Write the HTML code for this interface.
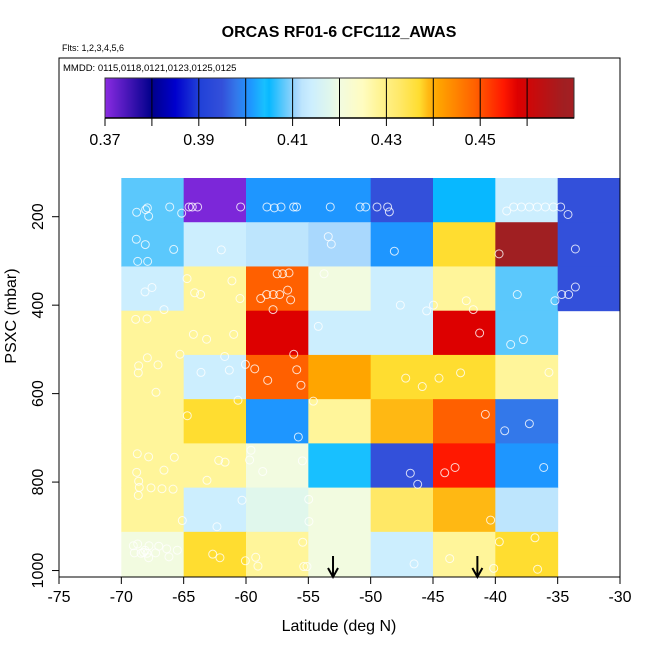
<!DOCTYPE html>
<html><head><meta charset="utf-8"><style>
html,body{margin:0;padding:0;background:#fff;}
svg{display:block;font-family:"Liberation Sans",Arial,sans-serif;}
</style></head><body>
<svg id="chart" width="650" height="650" viewBox="0 0 650 650" xmlns="http://www.w3.org/2000/svg">
<text x="339" y="37" text-anchor="middle" font-size="16" font-weight="bold">ORCAS RF01-6 CFC112_AWAS</text>
<text x="62" y="51" font-size="9">Flts: 1,2,3,4,5,6</text>
<g id="cells"></g>
<g id="points"></g>
<g id="arrows"></g>
<rect x="59" y="58" width="561" height="519" fill="none" stroke="#000" stroke-width="1"/>
<text x="63" y="71" font-size="9.5">MMDD: 0115,0118,0121,0123,0125,0125</text>
<g id="cbar"></g>
<g id="xaxis"></g>
<g id="yaxis"></g>
<text x="339" y="631" text-anchor="middle" font-size="16">Latitude (deg N)</text>
<text transform="translate(16,316) rotate(-90)" text-anchor="middle" font-size="16">PSXC (mbar)</text>
</svg>
<script>
const latEdges = [-70,-65,-60,-55,-50,-45,-40,-35,-30];
const presEdges = [112.5,212.5,312.5,412.5,512.5,612.5,712.5,812.5,912.5,1012.5];
const row0 = [0.408,0.371,0.401,0.401,0.395,0.405,0.414,0.395];
const row1 = [0.408,0.414,0.412,0.411,0.401,0.437,0.468,0.395];
const row2 = [0.414,0.428,0.449,0.420,0.414,0.428,0.408,0.395];
const row3 = [0.428,0.428,0.458,0.414,0.414,0.458,0.408,null];
const row4 = [0.428,0.414,0.449,0.441,0.437,0.437,0.428,null];
const row5 = [0.428,0.437,0.401,0.428,0.439,0.449,0.398,null];
const row6 = [0.428,0.428,0.420,0.404,0.395,0.455,0.401,null];
const row7 = [0.428,0.414,0.418,0.420,0.433,0.439,0.412,null];
const row8 = [0.420,0.437,0.428,0.420,0.414,0.428,0.437,null];
const grid = [row0,row1,row2,row3,row4,row5,row6,row7,row8];
const xTicks = [-75,-70,-65,-60,-55,-50,-45,-40,-35,-30];
const yTicks = [200,400,600,800,1000];
const cbTicks = [0.37,0.39,0.41,0.43,0.45];
const cbMinor = [0.38,0.40,0.42,0.44,0.46];
const arrowLats = [-53.02,-41.44];
const ptLat = [-68.77,-68.05,-67.91,-67.81,-66.12,-65.16,-64.57,-64.31,-63.88,-60.43,-58.32,-57.73,-57.19,-56.18,-55.94,-53.24,-50.85,-50.40,-49.49,-48.64,-48.50,-39.09,-38.53,-37.91,-37.27,-36.63,-35.99,-35.35,-34.76,-34.17,
-68.80,-68.08,-65.8,-68.69,-67.89,-61.98,-53.4,-53.16,-48.1,-39.7,-33.58,
-67.54,-68.1,-64.73,-64.12,-63.64,-61.13,-60.48,-57.5,-57.06,-56.55,-58.34,-57.81,-57.3,-56.66,-56.42,-58.82,-57.83,-53.74,-47.62,-45.51,-44.97,-42.33,-41.77,-38.24,-35.22,-34.68,-34.12,-33.58,-66.58,
-68.85,-67.94,-64.22,-63.16,-60.99,-54.2,-41.26,-37.75,-38.77,
-67.91,-68.61,-68.64,-67.06,-65.3,-67.22,-61.71,-63.61,-61.34,-60.05,-59.3,-58.26,-56.17,-55.93,-55.59,-60.64,-54.6,-47.19,-45.86,-44.52,-42.79,-35.7,
-64.71,-55.8,-40.8,-39.25,-37.27,-68.72,-67.81,-65.75,-68.77,-66.58,-68.61,-68.56,-67.62,-66.74,-65.85,-68.64,-62.19,-61.68,-63.13,-59.6,-59.71,-58.66,-55.48,-46.82,-46.23,-44.06,-43.23,-36.12,-60.32,-65.11,-62.33,-54.97,-54.95,-40.38,
-69.04,-68.69,-68.96,-68.23,-67.78,-67.94,-67.81,-67.25,-67.0,-66.36,-66.18,-65.51,-68.42,-68.1,-62.67,-62.09,-60.05,-59.22,-59.04,-55.45,-55.37,-55.11,-46.52,-43.66,-40.13,-39.68,-36.82,-36.61];
const ptPres = [190,184,180,199,178,192,178,178,178,178,178,180,178,178,178,178,178,178,178,178,189,187,178,178,178,178,178,178,178,195,
251,263,274,301,301,275,245,262,278,284,273,
360,370,340,372,376,345,385,329,329,327,376,376,376,366,388,385,410,329,400,413,400,390,410,376,390,376,376,359,410,
432,431,466,477,466,448,463,478,489,
519,537,553,535,511,597,516,552,547,534,544,570,511,546,581,615,617,565,584,565,553,552,
650,698,647,684,668,736,743,744,778,773,798,812,813,815,816,830,751,755,796,728,750,776,752,780,805,779,767,767,841,887,901,839,889,886,
944,940,960,959,944,961,971,960,945,951,969,954,961,954,963,971,978,970,990,936,991,991,985,973,995,935,926,997];
const stopV = [0.370,0.380,0.385,0.390,0.395,0.398,0.401,0.404,0.405,0.408,0.411,0.412,0.414,0.418,0.420,0.425,0.428,0.433,0.437,0.439,0.441,0.449,0.455,0.458,0.468,0.470];
const stopC = ["#8a2be2","#00008b","#0000cd","#2040d8","#3350da","#3378ea","#1e96ff","#18c0ff","#08b8ff","#5bc8fc","#a9d8fd","#bde5fd","#cceefe","#e0f7ec","#f2fbe0","#fffcc0","#fff59a","#ffe866","#ffdd30","#ffb813","#ffa500","#ff6000","#ff1800","#dd0000","#a01f22","#a51e22"];

const NS="http://www.w3.org/2000/svg";
const X0=59, XS=561/45;
function xs(lat){return X0+(lat+75)*XS;}
function ys(p){return 216.7+(p-200)*0.4423;}
function cx(v){return 105+(v-0.37)*4690;}
function hex(c){return [1,3,5].map(i=>parseInt(c.substr(i,2),16));}
function colorOf(v){
  if(v<=stopV[0]) return stopC[0];
  for(let i=1;i<stopV.length;i++){ if(v<=stopV[i]){ const t=(v-stopV[i-1])/(stopV[i]-stopV[i-1]); const a=hex(stopC[i-1]),b=hex(stopC[i]); return "rgb("+a.map((q,k)=>Math.round(q+(b[k]-q)*t)).join(",")+")"; } }
  return stopC[stopC.length-1];
}
function mk(tag,attrs,parent){const e=document.createElementNS(NS,tag);for(const k in attrs)e.setAttribute(k,attrs[k]);parent.appendChild(e);return e;}

const cells=document.getElementById('cells');
grid.forEach((row,r)=>row.forEach((v,c)=>{
  if(v===null) return;
  const x1=xs(latEdges[c]),x2=xs(latEdges[c+1]),y1=ys(presEdges[r]),y2=ys(presEdges[r+1]);
  const e=mk('rect',{x:x1,y:y1,width:x2-x1+0.5,height:y2-y1+0.5,fill:colorOf(v)},cells);
  
  
}));

const pts=document.getElementById('points');
ptLat.forEach((la,i)=>{
  const e=mk('circle',{cx:xs(la),cy:ys(ptPres[i]),r:4,fill:'none',stroke:'#fff','stroke-opacity':0.8,'stroke-width':1},pts);
  
  
});

const ar=document.getElementById('arrows');
arrowLats.forEach(la=>{
  const x=xs(la);
  const g=mk('g',{},ar);
  
  
  mk('line',{x1:x,y1:556,x2:x,y2:576,stroke:'#000','stroke-width':2},g);
  mk('path',{d:`M${x-5},${568} L${x},${577} L${x+5},${568}`,fill:'none',stroke:'#000','stroke-width':2},g);
});

const cb=document.getElementById('cbar');
for(let px=0;px<469;px++){
  const v=0.37+px/4690;
  mk('rect',{x:105+px,y:78,width:1.2,height:40,fill:colorOf(v+0.00011)},cb);
}
cbMinor.concat(cbTicks).forEach(v=>{
  const x=cx(v);
  const t=mk('line',{x1:x,y1:78,x2:x,y2:126,stroke:'#000','stroke-width':1},cb);
  
  
});
mk('rect',{x:105,y:78,width:469,height:40,fill:'none',stroke:'#333','stroke-width':1},cb);
mk('line',{x1:105,y1:118,x2:574,y2:118,stroke:'#000','stroke-width':1.5},cb);
cbTicks.forEach(v=>{
  const t=mk('text',{x:cx(v),y:145,'text-anchor':'middle','font-size':16},cb);
  t.textContent=v.toFixed(2);
  
  
});

const xa=document.getElementById('xaxis');
xTicks.forEach(v=>{
  const x=xs(v);
  mk('line',{x1:x,y1:577,x2:x,y2:584,stroke:'#000'},xa);
  const t=mk('text',{x:x,y:602,'text-anchor':'middle','font-size':16},xa);
  t.textContent=v;
  
  
});
const ya=document.getElementById('yaxis');
yTicks.forEach(v=>{
  const y=ys(v);
  mk('line',{x1:52,y1:y,x2:59,y2:y,stroke:'#000'},ya);
  const t=mk('text',{transform:`translate(43,${y}) rotate(-90)`,'text-anchor':'middle','font-size':16},ya);
  t.textContent=v;
  
  
});
</script>
</body></html>
